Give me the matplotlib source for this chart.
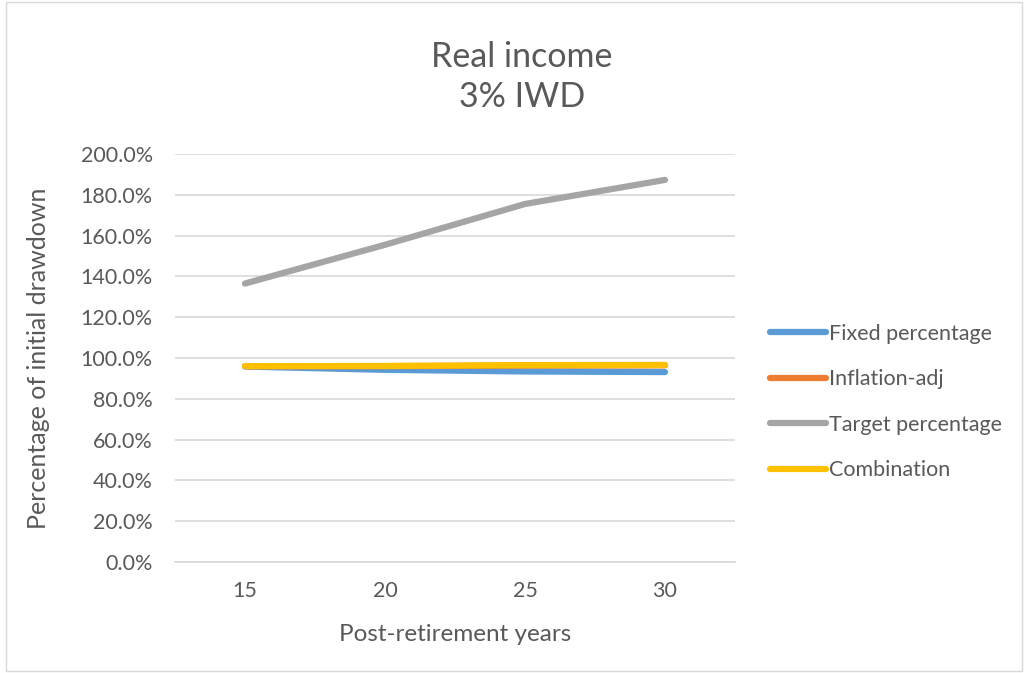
import matplotlib
matplotlib.use("Agg")
from matplotlib import pyplot as plt
from matplotlib.ticker import FuncFormatter
from matplotlib.patches import Rectangle

plt.rcParams['font.family'] = ['Lato', 'DejaVu Sans']

years = ['15', '20', '25', '30']
fixed_percentage = [95.8, 94.2, 93.4, 93.1]
inflation_adj = [96.0, 96.0, 96.3, 96.4]
target_percentage = [136.5, 155.5, 175.5, 187.3]
combination = [96.0, 96.1, 96.5, 96.6]

series = [('Fixed percentage', fixed_percentage, '#5b9bd5'),
          ('Inflation-adj', inflation_adj, '#ed7d31'),
          ('Target percentage', target_percentage, '#a5a5a5'),
          ('Combination', combination, '#ffc000')]

fig = plt.figure(figsize=(10.26, 6.73), dpi=100)
ax = fig.add_axes([175 / 1026, 1 - 562 / 673, 560 / 1026, 408 / 673])

x = range(len(years))
for label, values, color in series:
    ax.plot(x, values, color=color, lw=4.5, solid_capstyle='round', label=label)

ax.set_xlim(-0.5, len(years) - 0.5)
ax.set_ylim(0, 200)
ax.set_xticks(list(x))
ax.set_xticklabels(years)
ax.set_yticks(range(0, 201, 20))
ax.yaxis.set_major_formatter(FuncFormatter(lambda v, p: f'{v:.1f}%'))
ax.grid(axis='y', color='#d9d9d9', lw=1.2)
ax.set_axisbelow(True)
for side in ['left', 'right', 'top']:
    ax.spines[side].set_visible(False)
ax.spines['bottom'].set_color('#d9d9d9')
ax.spines['bottom'].set_linewidth(1.2)
ax.tick_params(length=0, labelsize=15.5, colors='#595959')
ax.tick_params(axis='y', pad=16)
ax.tick_params(axis='x', pad=14)

ax.set_xlabel('Post-retirement years', fontsize=17.5, color='#595959', labelpad=16)
ax.set_ylabel('Percentage of initial drawdown', fontsize=18, color='#595959', labelpad=22)
fig.text(522 / 1026, 1 - 77 / 673, 'Real income\n3% IWD', ha='center', va='center',
         fontsize=24.5, color='#595959', linespacing=1.3)

ax.legend(loc='center left', bbox_to_anchor=((770 - 175) / 560, (562 - 402) / 408),
          frameon=False, fontsize=15.5, labelcolor='#595959', handlelength=2.6,
          handletextpad=0.15, labelspacing=1.18, borderaxespad=0, borderpad=0)

fig.patches.append(Rectangle((0.006, 0.003), 0.99, 0.994, transform=fig.transFigure,
                             fill=False, edgecolor='#d9d9d9', lw=1))

fig.savefig('out.png', dpi=100)
